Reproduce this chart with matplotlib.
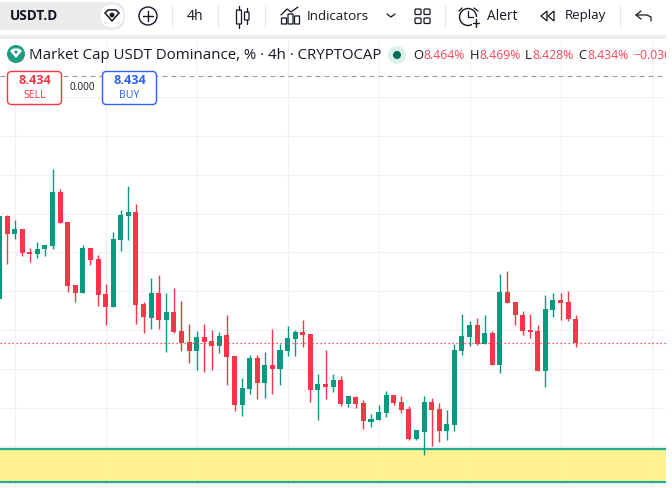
import matplotlib
matplotlib.use("Agg")
import matplotlib.pyplot as plt
from matplotlib.patches import Circle, FancyBboxPatch, Polygon, Rectangle
import numpy as np

plt.rcParams['font.family'] = ['Open Sans', 'DejaVu Sans']

# candles
opens = [8.490, 8.597, 8.574, 8.580, 8.551, 8.548, 8.554, 8.559, 8.628, 8.589, 8.508,
         8.498, 8.556, 8.542, 8.497, 8.480, 8.566, 8.597, 8.602, 8.484, 8.466, 8.498,
         8.463, 8.473, 8.449, 8.435, 8.423, 8.441, 8.436, 8.430, 8.444, 8.417, 8.353,
         8.374, 8.414, 8.382, 8.405, 8.400, 8.423, 8.439, 8.448, 8.445, 8.373, 8.380,
         8.377, 8.386, 8.355, 8.364, 8.356, 8.331, 8.334, 8.343, 8.366, 8.357, 8.348,
         8.310, 8.319, 8.357, 8.348, 8.320, 8.328, 8.423, 8.441, 8.457, 8.432, 8.446,
         8.405, 8.499, 8.486, 8.470, 8.450, 8.449, 8.397, 8.476, 8.489, 8.486, 8.464]
highs = [8.597, 8.598, 8.592, 8.580, 8.556, 8.564, 8.560, 8.658, 8.632, 8.589, 8.508,
         8.560, 8.556, 8.547, 8.509, 8.577, 8.605, 8.636, 8.613, 8.486, 8.517, 8.521,
         8.498, 8.504, 8.488, 8.458, 8.449, 8.458, 8.450, 8.448, 8.469, 8.417, 8.388,
         8.418, 8.418, 8.422, 8.451, 8.432, 8.455, 8.450, 8.463, 8.445, 8.393, 8.424,
         8.393, 8.391, 8.365, 8.365, 8.360, 8.342, 8.353, 8.371, 8.366, 8.365, 8.352,
         8.321, 8.365, 8.362, 8.356, 8.347, 8.432, 8.471, 8.462, 8.466, 8.469, 8.449,
         8.522, 8.526, 8.486, 8.475, 8.471, 8.457, 8.495, 8.498, 8.498, 8.500, 8.469]
lows = [8.490, 8.535, 8.568, 8.546, 8.538, 8.543, 8.546, 8.555, 8.588, 8.499, 8.486,
        8.498, 8.534, 8.481, 8.457, 8.480, 8.552, 8.566, 8.458, 8.446, 8.451, 8.451,
        8.422, 8.446, 8.423, 8.408, 8.399, 8.396, 8.399, 8.420, 8.379, 8.346, 8.339,
        8.368, 8.361, 8.362, 8.368, 8.379, 8.417, 8.417, 8.428, 8.357, 8.334, 8.361,
        8.370, 8.352, 8.351, 8.350, 8.322, 8.325, 8.334, 8.338, 8.353, 8.343, 8.308,
        8.308, 8.289, 8.301, 8.306, 8.308, 8.320, 8.418, 8.430, 8.431, 8.432, 8.405,
        8.395, 8.485, 8.457, 8.444, 8.440, 8.397, 8.377, 8.467, 8.463, 8.462, 8.428]
closes = [8.597, 8.574, 8.580, 8.549, 8.548, 8.555, 8.560, 8.628, 8.588, 8.507, 8.498,
          8.556, 8.540, 8.495, 8.480, 8.568, 8.598, 8.602, 8.482, 8.467, 8.498, 8.463,
          8.473, 8.448, 8.433, 8.423, 8.441, 8.435, 8.430, 8.442, 8.415, 8.353, 8.375,
          8.414, 8.382, 8.405, 8.400, 8.424, 8.440, 8.448, 8.444, 8.373, 8.380, 8.377,
          8.386, 8.355, 8.365, 8.355, 8.333, 8.335, 8.344, 8.366, 8.356, 8.347, 8.310,
          8.321, 8.357, 8.347, 8.320, 8.329, 8.424, 8.442, 8.457, 8.432, 8.446, 8.405,
          8.499, 8.485, 8.470, 8.449, 8.448, 8.397, 8.477, 8.489, 8.485, 8.464, 8.434]

last_price = 8.434
spread_line = 8.777
zone_top = 8.2966
zone_bottom = 8.254
price_grid = [8.30, 8.35, 8.40, 8.45, 8.50, 8.55, 8.60, 8.65, 8.70, 8.75]
bar_grid = [2, 14, 26, 38, 50, 62, 74, 86]

GREEN = '#089981'
RED = '#F63649'
GRID = '#EFF1F4'
W, H = 672, 488

fig = plt.figure(figsize=(W / 100, H / 100), dpi=100, facecolor='white')

# chart pane, 39px below the top of the image, 666px wide
ax = fig.add_axes([0, 0, 666 / W, (H - 39) / H])
bar_px = 7.583
ax.set_xlim(0.075, 0.075 + 666 / bar_px)
px_per_price = 776
ax.set_ylim(8.45 + (330.1 - 488) / px_per_price, 8.45 + (330.1 - 39) / px_per_price)
ax.axis('off')

for b in bar_grid:
    ax.axvline(b, color=GRID, lw=0.8, zorder=1)
for p in price_grid:
    ax.axhline(p, color=GRID, lw=0.8, zorder=1)

ax.axhspan(zone_bottom, zone_top, color='#FFF176', alpha=0.8, lw=0, zorder=2)
ax.axhline(zone_top, color='#22AB94', lw=1.6, zorder=3)
ax.axhline(zone_bottom, color='#22AB94', lw=1.6, zorder=3)

idx = np.arange(len(opens))
o = np.array(opens)
c = np.array(closes)
cols = [GREEN if cl >= op else RED for op, cl in zip(opens, closes)]
ax.vlines(idx, lows, highs, colors=cols, lw=1.0, zorder=4)
ax.bar(idx, np.abs(c - o), bottom=np.minimum(o, c), width=0.66, color=cols, lw=0, zorder=5)

ax.axhline(last_price, color=RED, lw=0.9, ls=(0, (1.1, 2.1)), zorder=6)
ax.axhline(spread_line, color='#9598A1', lw=0.8, ls=(0, (4.5, 3.6)), zorder=3)

# overlay for the toolbar and the legend, in pixels
ui = fig.add_axes([0, 0, 1, 1], zorder=10)
ui.set_xlim(0, W)
ui.set_ylim(H, 0)
ui.axis('off')
ui.patch.set_alpha(0)


def label(x, y, s, size=13, color='#131722', ha='left', weight='normal', **kw):
    ui.text(x, y, s, fontsize=size * 0.72, color=color, ha=ha, va='center', weight=weight, **kw)


def line(xs, ys, color='#131722', lw=1.0):
    ui.plot(xs, ys, color=color, lw=lw, solid_capstyle='round')


def box(x, y, w, h, edge='#131722', face='none', lw=1.0, r=1.5):
    ui.add_patch(FancyBboxPatch((x + r, y + r), w - 2 * r, h - 2 * r, boxstyle=f'round,pad={r},rounding_size={r}',
                                ec=edge, fc=face, lw=lw))


ui.add_patch(Rectangle((0, 35), 666, 4, fc='#EDEDED', ec='none'))

# symbol pill
box(-20, 2, 145, 28, edge='none', face='#EBEBEB', r=13)
ui.add_patch(Circle((112, 16), 11.5, fc='white', ec='none'))
ui.add_patch(Polygon([[105, 13], [108, 10], [116, 10], [119, 13], [112, 21]], closed=True, fc='white', ec='#131722', lw=1.1))
ui.add_patch(Circle((112, 15), 2.4, fc='#131722', ec='none'))
label(10, 16, 'USDT.D', size=13.6, weight='bold')

ui.add_patch(Circle((148, 16), 9, fc='none', ec='#131722', lw=1.0))
line([143, 153], [16, 16])
line([148, 148], [11, 21])

for sx in [172, 218, 265, 445, 620]:
    line([sx, sx], [5, 27], color='#E6E8EE', lw=0.9)

label(195.5, 16, '4h', size=14, ha='center')

# candle icon
box(236.5, 10, 5, 14, lw=0.9, r=0.5)
line([239, 239], [6, 10], lw=0.9)
line([239, 239], [24, 28], lw=0.9)
box(244.5, 12, 4.5, 8, lw=0.9, r=0.5)
line([247, 247], [8, 12], lw=0.9)
line([247, 247], [20, 24], lw=0.9)

# indicators icon
for bx, by in [(281.5, 18), (288, 14), (294.5, 16)]:
    box(bx, by, 5, 24 - by, lw=0.9, r=0.3)
line([281, 287, 291, 298], [15, 9, 12, 7], lw=0.9)
label(307, 16, 'Indicators', size=13.4)
line([387, 391, 395], [14, 17, 14], lw=0.9)

# layouts icon
for gx in [415, 424]:
    for gy in [9, 18]:
        box(gx, gy, 6, 5.5, lw=0.9, r=1)

# alert icon
ui.add_patch(Circle((468, 17), 8.5, fc='none', ec='#131722', lw=1.0))
line([468, 468, 473], [11, 17, 17], lw=0.9)
line([459, 462], [11, 8], lw=0.9)
line([474, 478], [8, 11], lw=0.9)
ui.add_patch(Rectangle((472, 17), 10, 11, fc='white', ec='none'))
line([473, 479], [23, 23], lw=1.0)
line([476, 476], [19, 27], lw=1.0)
label(487, 16, 'Alert', size=13.8)

# replay icon
ui.add_patch(Polygon([[547, 11], [541, 16], [547, 21]], closed=True, fc='none', ec='#131722', lw=0.9))
ui.add_patch(Polygon([[554, 11], [548, 16], [554, 21]], closed=True, fc='none', ec='#131722', lw=0.9))
label(565, 16, 'Replay', size=13.4)

# undo icon
line([641, 636, 641], [11, 15, 19], lw=0.9)
line([636, 647, 651, 651], [15, 15, 17, 21], lw=0.9)

# legend row
ui.add_patch(Circle((16, 54), 9, fc='#1F9C84', ec='none'))
ui.add_patch(Polygon([[10, 51], [13, 48.5], [19, 48.5], [22, 51], [16, 58]], closed=True, fc='white', ec='none'))
ui.add_patch(Circle((16, 52), 1.6, fc='#1F9C84', ec='none'))
label(29, 55.5, 'Market Cap USDT Dominance, % \u00b7 4h \u00b7 CRYPTOCAP', size=15.05, color='#131722')
ui.add_patch(Circle((397, 55), 9, fc='#DCF0EC', ec='none'))
ui.add_patch(Circle((397, 55), 4, fc='#006B5B', ec='none'))

VALUE_RED = '#F7485A'
for letter, lx, val, vx in [('O', 413, '8.464%', 423), ('H', 470, '8.469%', 479),
                            ('L', 525, '8.428%', 532), ('C', 578, '8.434%', 587)]:
    label(lx, 55.5, letter, size=13, color='#131722')
    label(vx, 55.5, val, size=12.3, color=VALUE_RED)
label(633, 55.5, '\u22120.030', size=12.3, color=VALUE_RED)

# reference stops 666px across, the rest is blank
ui.add_patch(Rectangle((666, 0), 6, H, fc='white', ec='none', zorder=20))

# sell / buy boxes
box(7.5, 71.5, 54, 33, edge='#F23645', face='white', lw=1.0, r=4)
label(34.5, 81, '8.434', size=12.6, color='#F23645', ha='center', weight='bold')
label(34.5, 95, 'SELL', size=10.5, color='#F23645', ha='center')
label(82, 87.5, '0.000', size=10, color='#131722', ha='center')
box(102.5, 71.5, 54, 33, edge='#2962FF', face='white', lw=1.0, r=4)
label(129.5, 81, '8.434', size=12.6, color='#2962FF', ha='center', weight='bold')
label(129.5, 95, 'BUY', size=10.5, color='#2962FF', ha='center')

fig.savefig('out.png', dpi=100)
plt.close(fig)
